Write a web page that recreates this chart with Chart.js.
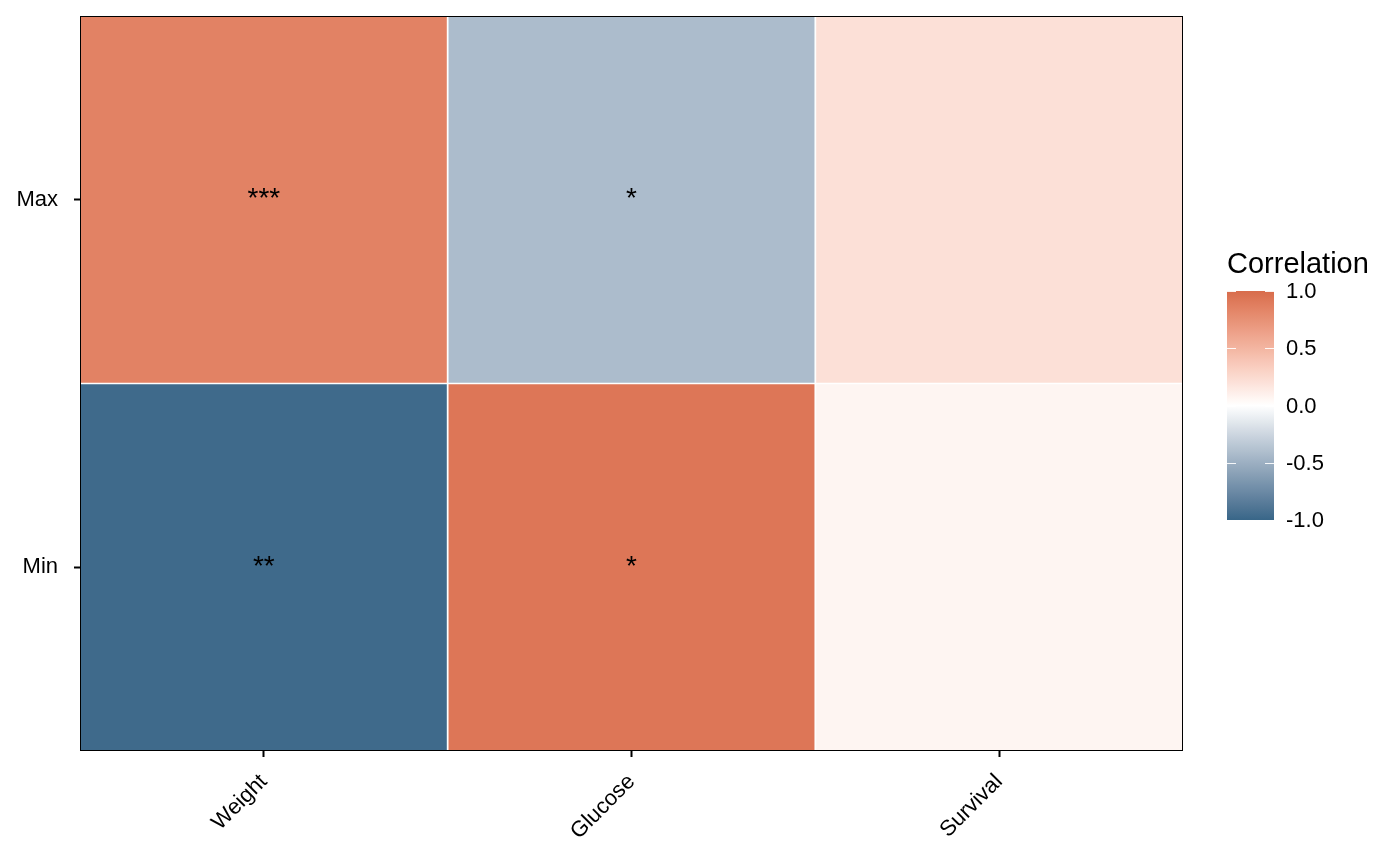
<!DOCTYPE html>
<html>
<head>
<meta charset="utf-8">
<script src="https://cdn.jsdelivr.net/npm/chart.js@4.4.0/dist/chart.umd.min.js"></script>
<style>
  html, body { margin: 0; padding: 0; background: #fff; }
  #wrap { width: 1400px; height: 866px; }
</style>
</head>
<body>
<div id="wrap"><canvas id="heat" width="1400" height="866"></canvas></div>
<script>
// ====== DATA ======
const columns   = ['Weight', 'Glucose', 'Survival'];
const rows      = ['Min', 'Max'];               // bottom -> top
const minValues = [-0.97, 0.93, 0.066];
const maxValues = [0.85, -0.42, 0.21];
const minStars  = ['**', '*', ''];
const maxStars  = ['***', '*', ''];
const legendTicks = [-1.0, -0.5, 0.0, 0.5, 1.0];
const legendTitle = 'Correlation';
// ==================

const FONT = '"Liberation Sans", Arial, Helvetica, sans-serif';
const LOW = '#386688', MID = '#ffffff', HIGH = '#D86C4B';

// Lab interpolation (like scale_fill_gradient2)
function hexToRgb(h){ return [1,3,5].map(i => parseInt(h.slice(i, i+2), 16)); }
function toLin(c){ c /= 255; return c <= 0.04045 ? c/12.92 : Math.pow((c+0.055)/1.055, 2.4); }
function fromLin(c){
  c = c <= 0.0031308 ? 12.92*c : 1.055*Math.pow(c, 1/2.4) - 0.055;
  return Math.round(Math.max(0, Math.min(1, c)) * 255);
}
const XN = 0.95047, ZN = 1.08883;
function rgbToLab(rgb){
  const [r,g,b] = rgb.map(toLin);
  const X = (0.4124*r + 0.3576*g + 0.1805*b) / XN;
  const Y =  0.2126*r + 0.7152*g + 0.0722*b;
  const Z = (0.0193*r + 0.1192*g + 0.9505*b) / ZN;
  const f = t => t > 0.008856 ? Math.cbrt(t) : 7.787*t + 16/116;
  const fx = f(X), fy = f(Y), fz = f(Z);
  return [116*fy - 16, 500*(fx - fy), 200*(fy - fz)];
}
function labToRgb([L,a,b]){
  const fy = (L + 16)/116, fx = fy + a/500, fz = fy - b/200;
  const inv = t => t*t*t > 0.008856 ? t*t*t : (t - 16/116)/7.787;
  const X = inv(fx)*XN, Y = inv(fy), Z = inv(fz)*ZN;
  const r =  3.2406*X - 1.5372*Y - 0.4986*Z;
  const g = -0.9689*X + 1.8758*Y + 0.0415*Z;
  const bb=  0.0557*X - 0.2040*Y + 1.0570*Z;
  return `rgb(${fromLin(r)},${fromLin(g)},${fromLin(bb)})`;
}
const labLow = rgbToLab(hexToRgb(LOW)), labMid = rgbToLab(hexToRgb(MID)), labHigh = rgbToLab(hexToRgb(HIGH));
function colorFor(v){
  const t = Math.min(1, Math.abs(v));
  const end = v < 0 ? labLow : labHigh;
  return labToRgb(labMid.map((m, i) => m + (end[i] - m) * t));
}

// plot frame, stars and colourbar
const decorations = {
  id: 'decorations',
  afterDatasetsDraw(chart){
    const { ctx, chartArea: a, scales: { x, y } } = chart;
    ctx.save();
    // stars
    ctx.fillStyle = '#000';
    ctx.font = `28px ${FONT}`;
    ctx.textAlign = 'center';
    ctx.textBaseline = 'middle';
    [minStars, maxStars].forEach((stars, r) => {
      stars.forEach((s, c) => {
        if (s) ctx.fillText(s, x.getPixelForValue(c), y.getPixelForValue(r + 0.5));
      });
    });
    // frame
    ctx.strokeStyle = '#000';
    ctx.lineWidth = 1;
    ctx.strokeRect(a.left + 0.5, a.top + 0.5, a.right - a.left - 1, a.bottom - a.top - 1);

    // colourbar
    const bx = 1227, bw = 47, yTop = 291, yBot = 520;
    const vy = v => yBot - (v + 1) / 2 * (yBot - yTop);
    const grad = ctx.createLinearGradient(0, yBot, 0, yTop);
    for (let i = 0; i <= 40; i++) {
      const v = -1 + i / 20;
      grad.addColorStop(i / 40, colorFor(v));
    }
    ctx.fillStyle = grad;
    ctx.fillRect(bx, yTop, bw, yBot - yTop);
    ctx.strokeStyle = 'rgba(255,255,255,0.9)';
    ctx.lineWidth = 1;
    ctx.fillStyle = '#000';
    ctx.font = `22px ${FONT}`;
    ctx.textAlign = 'left';
    ctx.textBaseline = 'middle';
    legendTicks.forEach(v => {
      const py = Math.round(vy(v)) + 0.5;
      ctx.beginPath();
      ctx.moveTo(bx, py); ctx.lineTo(bx + 9, py);
      ctx.moveTo(bx + bw - 9, py); ctx.lineTo(bx + bw, py);
      ctx.stroke();
      ctx.fillText(v.toFixed(1), 1286, vy(v) + 1);
    });
    ctx.font = `29px ${FONT}`;
    ctx.textBaseline = 'alphabetic';
    ctx.fillText(legendTitle, 1227, 273);
    ctx.restore();
  }
};

const rowData = [minValues, maxValues];
const datasets = rows.map((name, r) => ({
  label: name,
  data: columns.map(() => [r, r + 1]),
  backgroundColor: rowData[r].map(colorFor),
  borderColor: '#ffffff',
  borderWidth: 1.2,
  borderSkipped: false,
  barPercentage: 1,
  categoryPercentage: 1,
  grouped: false
}));

new Chart(document.getElementById('heat'), {
  type: 'bar',
  data: { labels: columns, datasets },
  plugins: [decorations],
  options: {
    responsive: false,
    animation: false,
    layout: { padding: { top: 16, right: 217, left: 0, bottom: 0 } },
    plugins: { legend: { display: false }, tooltip: { enabled: false } },
    scales: {
      x: {
        type: 'category',
        offset: true,
        border: { display: false },
        grid: { offset: false, drawOnChartArea: false, drawTicks: true, tickLength: 6, tickColor: '#000', tickWidth: 2 },
        ticks: { color: '#000', font: { family: FONT, size: 22 }, maxRotation: 45, minRotation: 45, padding: 12 },
        afterFit(s){ s.height = 115; s.paddingLeft = 0; s.paddingRight = 0; }
      },
      y: {
        type: 'linear',
        min: 0, max: 2,
        border: { display: false },
        grid: { drawOnChartArea: false, drawTicks: true, tickLength: 6, tickColor: '#000', tickWidth: 2 },
        afterBuildTicks(s){ s.ticks = [{ value: 0.5 }, { value: 1.5 }]; },
        ticks: {
          color: '#000', font: { family: FONT, size: 22 }, padding: 16,
          callback: v => rows[Math.floor(v)]
        },
        afterFit(s){ s.width = 80; s.paddingTop = 0; s.paddingBottom = 0; }
      }
    }
  }
});
</script>
</body>
</html>
